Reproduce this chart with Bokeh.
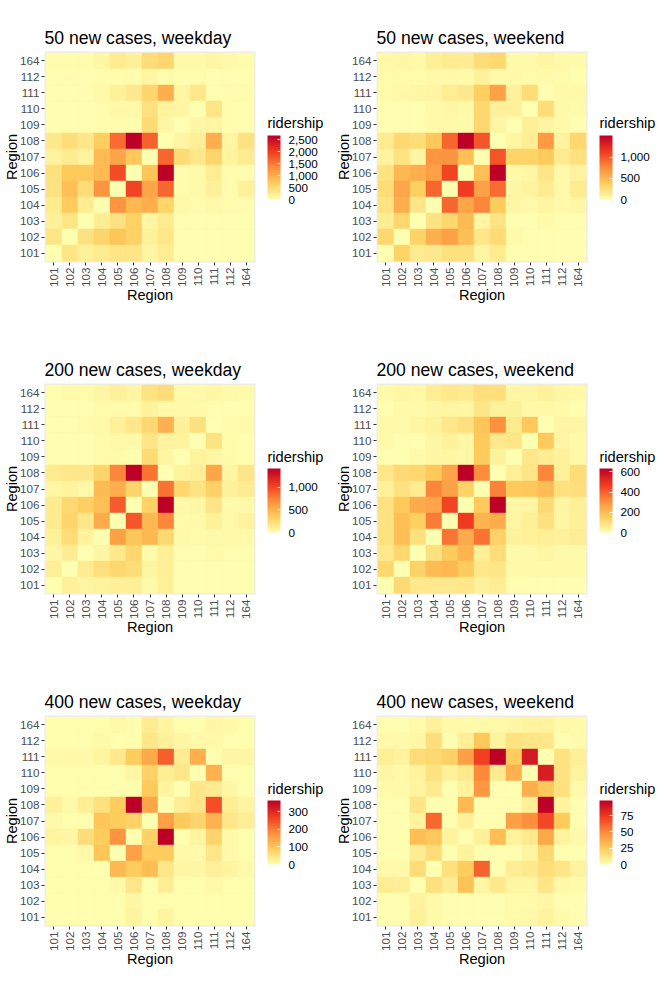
import numpy as np
from bokeh.embed import file_html
from bokeh.layouts import column, row
from bokeh.models import (AllLabels, ColorBar, ColumnDataSource, FactorRange, FixedTicker, Label,
                          LinearColorMapper, NumeralTickFormatter)
from bokeh.plotting import figure
from bokeh.resources import INLINE

regions = ["101", "102", "103", "104", "105", "106", "107", "108", "109", "110", "111", "112", "164"]
rows_top_down = ["164", "112", "111", "110", "109", "108", "107", "106", "105", "104", "103", "102", "101"]

titles = ["50 new cases, weekday", "50 new cases, weekend",
          "200 new cases, weekday", "200 new cases, weekend",
          "400 new cases, weekday", "400 new cases, weekend"]
scale_max = [2680, 1515, 1407, 633, 365, 98]
legend_ticks = [[0, 500, 1000, 1500, 2000, 2500], [0, 500, 1000], [0, 500, 1000],
                [0, 200, 400, 600], [0, 100, 200, 300], [0, 25, 50, 75]]

weekday_50 = [
    [50, 50, 50, 110, 270, 190, 460, 540, 80, 80, 110, 80, 50],
    [30, 30, 30, 50, 50, 50, 130, 50, 50, 50, 30, 30, 30],
    [30, 30, 30, 80, 190, 290, 540, 990, 130, 320, 30, 50, 50],
    [30, 30, 30, 50, 80, 80, 380, 160, 130, 0, 350, 50, 30],
    [30, 30, 30, 50, 50, 50, 480, 110, 0, 110, 130, 50, 30],
    [290, 430, 320, 640, 1610, 2680, 1690, 0, 130, 210, 990, 130, 380],
    [160, 240, 160, 860, 1070, 720, 0, 1660, 480, 320, 540, 160, 270],
    [400, 700, 700, 860, 1880, 0, 750, 2680, 50, 80, 240, 50, 50],
    [380, 800, 460, 1260, 0, 1930, 1070, 1660, 50, 80, 190, 50, 190],
    [270, 670, 240, 0, 1260, 880, 990, 560, 80, 50, 80, 50, 50],
    [190, 350, 0, 240, 380, 590, 130, 270, 30, 30, 30, 30, 30],
    [350, 0, 380, 560, 750, 590, 190, 320, 30, 30, 30, 30, 30],
    [0, 350, 190, 270, 350, 350, 130, 240, 30, 30, 30, 30, 30],
]
weekend_50 = [
    [45, 60, 45, 120, 150, 135, 255, 300, 45, 45, 75, 45, 30],
    [30, 30, 30, 45, 45, 30, 105, 45, 45, 30, 30, 30, 15],
    [30, 45, 60, 75, 135, 165, 360, 630, 105, 255, 15, 45, 45],
    [15, 15, 15, 45, 60, 45, 300, 105, 105, 0, 255, 45, 30],
    [15, 15, 15, 45, 45, 30, 300, 75, 0, 120, 75, 45, 15],
    [150, 285, 255, 405, 940, 1515, 1015, 0, 75, 135, 680, 90, 300],
    [90, 210, 75, 700, 710, 455, 0, 1015, 330, 320, 380, 150, 225],
    [210, 500, 560, 640, 1090, 0, 455, 1515, 45, 60, 195, 45, 90],
    [255, 610, 360, 940, 0, 1135, 640, 910, 60, 90, 150, 45, 150],
    [210, 560, 195, 0, 940, 610, 790, 380, 60, 45, 75, 45, 60],
    [135, 300, 0, 210, 300, 485, 75, 210, 15, 15, 30, 15, 15],
    [300, 0, 330, 545, 640, 455, 180, 270, 30, 15, 15, 15, 15],
    [0, 330, 150, 165, 225, 225, 75, 150, 15, 15, 15, 15, 15],
]
weekday_200 = [
    [15, 30, 30, 55, 100, 70, 195, 240, 40, 40, 55, 40, 30],
    [15, 15, 15, 30, 30, 30, 85, 40, 40, 30, 15, 15, 15],
    [15, 15, 30, 40, 100, 170, 265, 505, 100, 210, 0, 30, 30],
    [15, 15, 15, 30, 40, 40, 180, 85, 85, 0, 195, 30, 15],
    [15, 15, 15, 30, 30, 15, 250, 70, 0, 85, 55, 30, 15],
    [140, 170, 170, 295, 730, 1407, 815, 0, 85, 110, 560, 70, 180],
    [55, 85, 40, 450, 520, 295, 0, 815, 280, 195, 310, 100, 140],
    [140, 265, 335, 420, 915, 0, 310, 1407, 40, 55, 180, 30, 40],
    [140, 295, 170, 535, 0, 940, 465, 730, 30, 40, 100, 40, 85],
    [100, 240, 85, 0, 590, 380, 465, 265, 40, 30, 40, 40, 40],
    [55, 125, 0, 70, 155, 280, 30, 110, 15, 15, 30, 15, 15],
    [110, 0, 140, 225, 280, 240, 70, 110, 15, 15, 15, 15, 15],
    [0, 100, 70, 85, 100, 110, 40, 100, 15, 15, 15, 15, 15],
]
weekend_200 = [
    [15, 25, 20, 55, 70, 65, 100, 100, 25, 30, 40, 25, 20],
    [5, 15, 15, 25, 30, 25, 80, 40, 40, 20, 20, 15, 5],
    [15, 15, 30, 40, 75, 95, 175, 305, 65, 170, 0, 30, 30],
    [15, 5, 5, 25, 40, 25, 165, 70, 80, 0, 165, 30, 20],
    [5, 5, 15, 25, 30, 20, 160, 40, 0, 75, 55, 40, 20],
    [75, 115, 125, 170, 255, 633, 315, 0, 50, 80, 330, 45, 110],
    [45, 90, 55, 330, 265, 140, 0, 335, 165, 170, 200, 95, 100],
    [90, 165, 240, 255, 455, 0, 165, 633, 25, 30, 115, 30, 50],
    [90, 190, 150, 350, 0, 475, 220, 240, 30, 50, 95, 30, 45],
    [90, 190, 95, 0, 365, 240, 365, 140, 40, 45, 50, 45, 55],
    [70, 125, 0, 95, 160, 220, 50, 110, 15, 15, 25, 15, 15],
    [125, 0, 140, 200, 215, 160, 75, 80, 15, 15, 15, 15, 15],
    [0, 115, 70, 70, 70, 75, 40, 55, 5, 5, 5, 5, 5],
]
weekday_400 = [
    [5, 5, 5, 5, 10, 5, 35, 20, 5, 5, 15, 10, 5],
    [5, 5, 5, 10, 5, 5, 45, 25, 15, 10, 10, 5, 5],
    [10, 10, 10, 20, 40, 90, 140, 235, 35, 135, 0, 15, 15],
    [5, 5, 5, 5, 5, 15, 80, 30, 45, 0, 130, 5, 5],
    [5, 5, 5, 5, 5, 5, 95, 20, 0, 45, 35, 15, 5],
    [25, 10, 30, 55, 90, 365, 145, 0, 30, 45, 255, 30, 20],
    [10, 5, 5, 100, 90, 80, 0, 155, 95, 75, 130, 45, 30],
    [20, 15, 60, 90, 170, 0, 80, 365, 5, 20, 75, 10, 5],
    [5, 5, 10, 100, 0, 155, 90, 90, 10, 10, 45, 10, 5],
    [5, 5, 5, 0, 120, 90, 115, 45, 15, 15, 25, 20, 10],
    [5, 5, 5, 5, 10, 45, 5, 30, 5, 5, 10, 5, 5],
    [5, 5, 5, 5, 5, 15, 5, 5, 5, 5, 5, 5, 5],
    [5, 5, 5, 5, 5, 20, 5, 20, 5, 5, 5, 5, 5],
]
weekend_400 = [
    [1, 1, 2, 7, 3, 3, 3, 3, 4, 5, 6, 3, 2],
    [3, 3, 4, 16, 1, 8, 26, 6, 14, 13, 12, 1, 2],
    [8, 6, 17, 19, 22, 42, 72, 98, 24, 87, 0, 14, 8],
    [4, 3, 6, 14, 7, 11, 50, 10, 35, 0, 85, 14, 6],
    [2, 3, 5, 10, 1, 6, 45, 1, 0, 36, 26, 15, 3],
    [1, 1, 13, 1, 1, 32, 1, 1, 1, 8, 98, 6, 1],
    [1, 1, 6, 60, 1, 7, 1, 1, 42, 48, 70, 25, 1],
    [1, 1, 30, 26, 6, 1, 7, 30, 6, 10, 38, 6, 3],
    [1, 1, 9, 17, 1, 6, 1, 1, 1, 5, 18, 1, 1],
    [3, 3, 17, 0, 15, 24, 62, 1, 9, 11, 16, 13, 6],
    [9, 8, 0, 15, 9, 28, 4, 11, 4, 4, 12, 3, 2],
    [1, 1, 6, 3, 1, 1, 1, 1, 2, 2, 4, 1, 1],
    [1, 1, 7, 2, 1, 1, 1, 1, 2, 3, 6, 2, 1],
]
panels = [weekday_50, weekend_50, weekday_200, weekend_200, weekday_400, weekend_400]

stops = np.array([[255, 255, 178], [254, 204, 92], [253, 141, 60], [240, 59, 32], [189, 0, 38]], float)
pos = np.linspace(0, 1, 256)
palette = ["#%02x%02x%02x" % tuple(int(round(np.interp(t, np.linspace(0, 1, 5), stops[:, c]))) for c in range(3))
           for t in pos]

FONT = "Liberation Sans"


def panel(i):
    data = panels[i]
    xs, ys, vs = [], [], []
    for r, vals in zip(rows_top_down, data):
        for c, v in zip(regions, vals):
            xs.append(c)
            ys.append(r)
            vs.append(v)
    mapper = LinearColorMapper(palette=palette, low=0, high=scale_max[i])
    p = figure(width=332, height=332 if i < 4 else 333, frame_width=211, frame_height=211,
               x_range=FactorRange(factors=regions, range_padding=0.09, range_padding_units="absolute"),
               y_range=FactorRange(factors=regions, range_padding=0.09, range_padding_units="absolute"),
               title=titles[i], toolbar_location=None, output_backend="svg",
               min_border_left=44, min_border_top=51, min_border_right=77,
               min_border_bottom=70 if i < 4 else 71,
               x_axis_label="Region", y_axis_label="Region")
    p.rect(x="x", y="y", width=1, height=1, source=ColumnDataSource(dict(x=xs, y=ys, v=vs)),
           fill_color={"field": "v", "transform": mapper},
           line_color={"field": "v", "transform": mapper}, line_width=0.4)
    p.background_fill_color = "#EBEBEB"
    p.outline_line_color = None
    p.grid.grid_line_color = None
    p.title.text_font = FONT
    p.title.text_font_size = "17.6px"
    p.title.text_font_style = "normal"
    p.title.text_color = "black"
    p.title.standoff = 7
    for ax in (p.xaxis[0], p.yaxis[0]):
        ax.axis_line_color = None
        ax.major_tick_line_color = "#333333"
        ax.major_tick_out = 3
        ax.major_tick_in = 0
        ax.minor_tick_line_color = None
        ax.major_label_text_font = FONT
        ax.major_label_text_font_size = "11.7px"
        ax.major_label_text_color = "#4D4D4D"
        ax.major_label_standoff = 2
        ax.axis_label_text_font = FONT
        ax.axis_label_text_font_size = "14.6px"
        ax.axis_label_text_font_style = "normal"
        ax.axis_label_text_color = "black"
        ax.axis_label_standoff = -3
    p.xaxis[0].major_label_orientation = np.pi / 2
    bar = ColorBar(color_mapper=mapper, ticker=FixedTicker(ticks=legend_ticks[i]),
                   formatter=NumeralTickFormatter(format="0,0"),
                   major_label_policy=AllLabels(),
                   width=13, height=64, location=(223, 63 if i < 2 else 62),
                   major_label_text_font=FONT, major_label_text_font_size="11.7px",
                   major_label_text_color="black", label_standoff=8,
                   major_tick_line_color="white", major_tick_in=3, major_tick_out=0,
                   minor_tick_line_color=None, bar_line_color=None,
                   border_line_color=None, background_fill_color=None, padding=0, margin=0)
    p.add_layout(bar)
    p.add_layout(Label(x=267, y=122 if i < 2 else 124, x_units="canvas", y_units="canvas", text="ridership",
                       text_font=FONT, text_font_size="14.6px", text_color="black",
                       text_baseline="alphabetic"), "right")
    return p


figs = [panel(i) for i in range(6)]
root = column(row(figs[0], figs[1], spacing=0), row(figs[2], figs[3], spacing=0),
              row(figs[4], figs[5], spacing=0), spacing=0)
open("out.html", "w").write(file_html(root, INLINE))
